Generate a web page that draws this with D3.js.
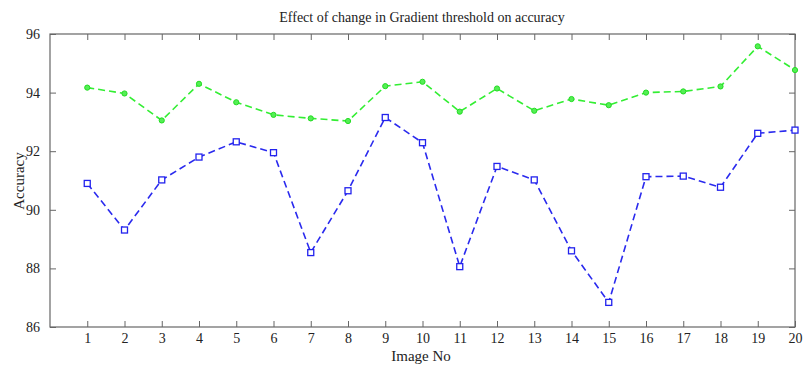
<!DOCTYPE html>
<html>
<head>
<meta charset="utf-8">
<script src="https://d3js.org/d3.v7.min.js"></script>
<style>
  body { margin: 0; background: #fff; }
  text { font-family: "Liberation Serif", "DejaVu Serif", serif; fill: #222; }
  .frame { fill: none; stroke: #666; stroke-width: 1.2; }
  .tick line { stroke: #666; }
</style>
</head>
<body>
<div id="chart"></div>
<script>
let width = 803,
    height = 365;

let margin = {top: 34, right: 8, bottom: 38, left: 50};

// image numbers and the two accuracy series
let images = d3.range(1, 21);
let greenSeries = [94.17, 93.97, 93.05, 94.3, 93.67, 93.24, 93.12, 93.03, 94.22, 94.37,
                   93.35, 94.14, 93.38, 93.78, 93.57, 94.0, 94.04, 94.21, 95.58, 94.77];
let blueSeries  = [90.9, 89.31, 91.02, 91.8, 92.32, 91.95, 88.54, 90.65, 93.15, 92.29,
                   88.06, 91.48, 91.02, 88.6, 86.84, 91.13, 91.15, 90.77, 92.61, 92.72];
let yTicks = [86, 88, 90, 92, 94, 96];

let svg = d3.select("#chart").append("svg")
    .attr("width", width)
    .attr("height", height);

let x = d3.scaleLinear().domain([0, 20]).range([margin.left, width - margin.right]);
let y = d3.scaleLinear().domain([86, 96]).range([height - margin.bottom, margin.top]);

let tickLen = 6;

// axes, MATLAB style: ticks point inward on all four sides
svg.append("g")
    .attr("transform", "translate(0," + y(86) + ")")
    .call(d3.axisBottom(x).tickValues(images).tickSize(-tickLen).tickPadding(6).tickFormat(d3.format("d")))
    .call(g => g.select(".domain").remove())
    .selectAll("text").style("font-size", "14px").style("font-family", "Liberation Serif");

svg.append("g")
    .attr("transform", "translate(0," + y(96) + ")")
    .call(d3.axisTop(x).tickValues(images).tickSize(-tickLen).tickFormat(""))
    .call(g => g.select(".domain").remove());

svg.append("g")
    .attr("transform", "translate(" + x(0) + ",0)")
    .call(d3.axisLeft(y).tickValues(yTicks).tickSize(-tickLen).tickPadding(10))
    .call(g => g.select(".domain").remove())
    .selectAll("text").style("font-size", "14px").style("font-family", "Liberation Serif");

svg.append("g")
    .attr("transform", "translate(" + x(20) + ",0)")
    .call(d3.axisRight(y).tickValues(yTicks).tickSize(-tickLen).tickFormat(""))
    .call(g => g.select(".domain").remove());

svg.append("rect")
    .attr("class", "frame")
    .attr("x", x(0))
    .attr("y", y(96))
    .attr("width", x(20) - x(0))
    .attr("height", y(86) - y(96));

let line = d3.line()
    .x((d, i) => x(images[i]))
    .y(d => y(d));

// green series
svg.append("path")
    .datum(greenSeries)
    .attr("fill", "none")
    .attr("stroke", "#33ee33")
    .attr("stroke-width", 1.6)
    .attr("stroke-dasharray", "7,4")
    .attr("d", line);

svg.selectAll(".gdot")
    .data(greenSeries)
  .enter().append("circle")
    .attr("class", "gdot")
    .attr("cx", (d, i) => x(images[i]))
    .attr("cy", d => y(d))
    .attr("r", 2.6)
    .attr("fill", "#55ee55")
    .attr("stroke", "#22dd22")
    .attr("stroke-width", 1);

// blue series
svg.append("path")
    .datum(blueSeries)
    .attr("fill", "none")
    .attr("stroke", "#2a2aee")
    .attr("stroke-width", 1.6)
    .attr("stroke-dasharray", "7,4")
    .attr("d", line);

svg.selectAll(".bsq")
    .data(blueSeries)
  .enter().append("rect")
    .attr("class", "bsq")
    .attr("x", (d, i) => x(images[i]) - 3)
    .attr("y", d => y(d) - 3)
    .attr("width", 6)
    .attr("height", 6)
    .attr("fill", "#fff")
    .attr("stroke", "#2222ee")
    .attr("stroke-width", 1.3);

// labels
svg.append("text")
    .attr("x", 422)
    .attr("y", 22)
    .attr("text-anchor", "middle")
    .style("font-size", "14px")
    .text("Effect of change in Gradient threshold on accuracy");

svg.append("text")
    .attr("x", 421)
    .attr("y", 361)
    .attr("text-anchor", "middle")
    .style("font-size", "15px")
    .text("Image No");

svg.append("text")
    .attr("transform", "translate(24,181) rotate(-90)")
    .attr("text-anchor", "middle")
    .style("font-size", "15px")
    .text("Accuracy");
</script>
</body>
</html>
